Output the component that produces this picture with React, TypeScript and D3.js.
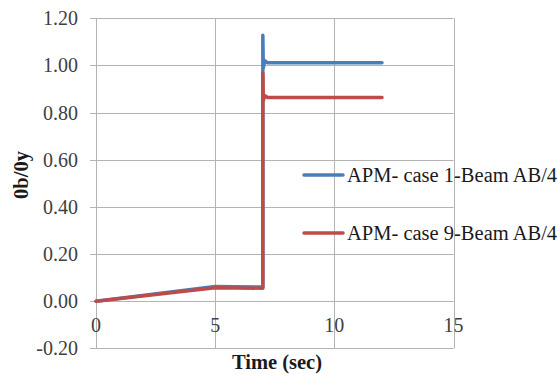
import React from "react";
import * as d3 from "d3";

const blueX = [0, 5, 7, 7, 7.02, 7.08, 7.2, 12];
const blueY = [0, 0.062, 0.06, 1.128, 0.99, 1.02, 1.011, 1.011];
const redX = [0, 5, 7, 7, 7.02, 7.08, 7.2, 12];
const redY = [0, 0.057, 0.055, 0.967, 0.85, 0.872, 0.864, 0.864];
const xTicks = [0, 5, 10, 15];
const yTicks = [-0.2, 0, 0.2, 0.4, 0.6, 0.8, 1.0, 1.2];
const seriesNames = ["APM- case 1-Beam AB/4", "APM- case 9-Beam AB/4"];
const colors = ["#4a7ebb", "#be4b48"];

export default function App() {
  const W = 557, H = 374;
  const x = d3.scaleLinear().domain([0, 15]).range([96, 453.5]);
  const y = d3.scaleLinear().domain([-0.2, 1.2]).range([348.3, 18.3]);
  const line = d3.line<[number, number]>().x(d => x(d[0])).y(d => y(d[1]));
  const series = [
    blueX.map((v, i) => [v, blueY[i]] as [number, number]),
    redX.map((v, i) => [v, redY[i]] as [number, number]),
  ];
  const font = "'Liberation Serif', 'Times New Roman', serif";
  const grid = "#b3b3b3";
  return (
    <svg width={W} height={H} style={{ position: "absolute", left: 0, top: 0, background: "#fff" }} fontFamily={font}>
      <rect width={W} height={H} fill="#fff" />
      {yTicks.map(t => (
        <line key={"h" + t} x1={90} x2={x(15)} y1={Math.round(y(t)) + 0.5} y2={Math.round(y(t)) + 0.5} stroke={grid} strokeWidth={1} />
      ))}
      {xTicks.map(t => (
        <line key={"v" + t} x1={Math.round(x(t)) + 0.5} x2={Math.round(x(t)) + 0.5} y1={y(1.2)} y2={y(-0.2)} stroke={grid} strokeWidth={1} />
      ))}
      {yTicks.map(t => (
        <text key={"yl" + t} x={78} y={y(t)} dy="0.35em" textAnchor="end" fontSize={20} fill="#404040">{t.toFixed(2)}</text>
      ))}
      {xTicks.map(t => (
        <text key={"xl" + t} x={x(t)} y={325} dy="0.35em" textAnchor="middle" fontSize={20} fill="#404040">{t}</text>
      ))}
      {series.map((s, i) => (
        <path key={"s" + i} d={line(s) || ""} fill="none" stroke={colors[i]} strokeWidth={3.5} strokeLinejoin="round" strokeLinecap="round" />
      ))}
      {seriesNames.map((n, i) => (
        <g key={"lg" + i} transform={`translate(0,${i === 0 ? 175 : 233})`}>
          <line x1={304} x2={343} y1={0} y2={0} stroke={colors[i]} strokeWidth={3.5} strokeLinecap="round" />
          <text x={347} y={0} dy="0.35em" fontSize={20.5} fill="#1a1a1a">{n}</text>
        </g>
      ))}
      <text x={277} y={362} dy="0.35em" textAnchor="middle" fontSize={20.5} fontWeight="bold" fill="#1a1a1a">Time (sec)</text>
      <text transform="translate(21,175) rotate(-90)" dy="0.35em" textAnchor="middle" fontSize={20.5} fontWeight="bold" fill="#1a1a1a">0b/0y</text>
    </svg>
  );
}
